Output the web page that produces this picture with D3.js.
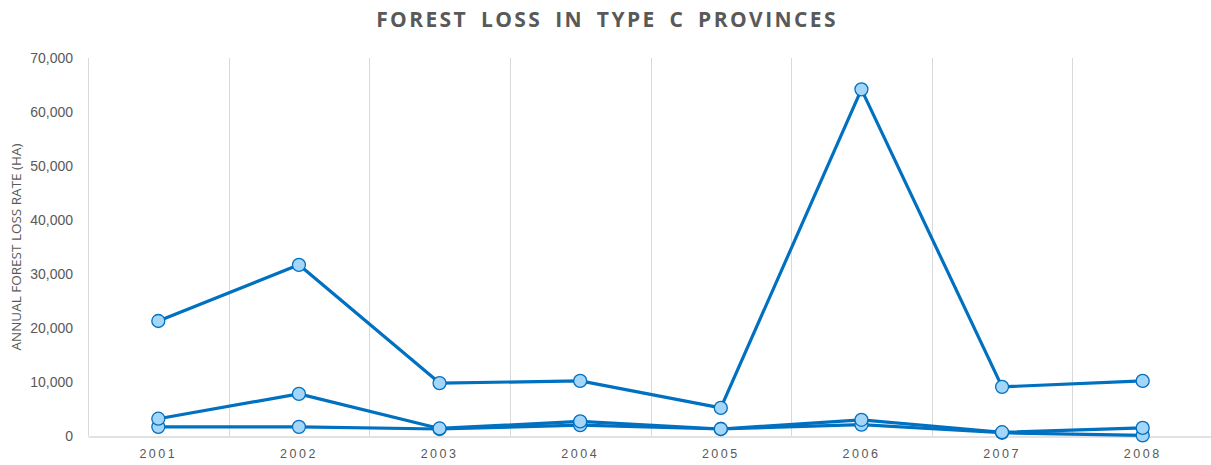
<!DOCTYPE html>
<html>
<head>
<meta charset="utf-8">
<script src="https://cdn.jsdelivr.net/npm/d3@7"></script>
<style>
  html, body { margin: 0; padding: 0; background: #fff; }
  svg { display: block; font-family: "Open Sans", "Liberation Sans", sans-serif; }
</style>
</head>
<body>
<svg id="chart" width="1211" height="465"></svg>
<script>
// Annual forest loss (ha) for three type C provinces, 2001–2008
const years = ["2001", "2002", "2003", "2004", "2005", "2006", "2007", "2008"];
const provinceA = [21300, 31700, 9800, 10200, 5200, 64200, 9100, 10200];
const provinceB = [3200, 7800, 1400, 2700, 1300, 3000, 700, 1500];
const provinceC = [1700, 1700, 1300, 2000, 1300, 2100, 600, 100];
const yTicks = [0, 10000, 20000, 30000, 40000, 50000, 60000, 70000];

const series = [provinceC, provinceB, provinceA];

const svg = d3.select("#chart");
const margin = { left: 88, right: -2, top: 58, bottom: 29 };
const W = 1211, H = 465;

const x = d3.scaleBand().domain(years).range([margin.left, W - margin.right]).paddingInner(0).paddingOuter(0);
const y = d3.scaleLinear().domain([0, 70000]).range([H - margin.bottom, margin.top]);

const grey = "#d9d9d9";
const text = "#595959";

// vertical gridlines between categories
svg.append("g")
  .selectAll("line")
  .data(years.slice(1))
  .join("line")
  .attr("x1", d => Math.round(x(d)) + 0.5)
  .attr("x2", d => Math.round(x(d)) + 0.5)
  .attr("y1", y(70000))
  .attr("y2", y(0))
  .attr("stroke", grey)
  .attr("stroke-width", 1);

// y axis line
svg.append("line")
  .attr("x1", margin.left + 0.5).attr("x2", margin.left + 0.5)
  .attr("y1", y(70000)).attr("y2", y(0))
  .attr("stroke", grey);

// x axis
const xAxis = svg.append("g")
  .attr("transform", `translate(0,${y(0) + 0.5})`)
  .call(d3.axisBottom(x).tickSize(0).tickPadding(13));
xAxis.select(".domain").attr("stroke", grey).attr("stroke-width", 1.5);
xAxis.selectAll("text")
  .attr("fill", text)
  .attr("font-size", 12.5)
  .attr("letter-spacing", "2.5px");

// y axis
const yAxis = svg.append("g")
  .attr("transform", `translate(${margin.left},0)`)
  .call(d3.axisLeft(y).tickValues(yTicks).tickSize(0).tickPadding(15).tickFormat(d3.format(",")));
yAxis.select(".domain").remove();
yAxis.selectAll("text")
  .attr("fill", text)
  .attr("font-size", 14);

// y axis title
svg.append("text")
  .attr("transform", `translate(21,${(y(0) + y(70000)) / 2}) rotate(-90)`)
  .attr("text-anchor", "middle")
  .attr("fill", text)
  .attr("font-size", 13.5)
  .text("ANNUAL FOREST LOSS RATE (HA)");

// title
svg.append("text")
  .attr("x", 607)
  .attr("y", 27)
  .attr("text-anchor", "middle")
  .attr("fill", text)
  .attr("font-size", 21)
  .attr("font-weight", "bold")
  .attr("letter-spacing", "2.4px")
  .attr("word-spacing", "5px")
  .text("FOREST LOSS IN TYPE C PROVINCES");

const line = d3.line()
  .x((d, i) => x(years[i]) + x.bandwidth() / 2)
  .y(d => y(d));

const lineColor = "#0070c0";
const markerFill = "#a3d6f8";

series.forEach(vals => {
  const g = svg.append("g");
  g.append("path")
    .datum(vals)
    .attr("d", line)
    .attr("fill", "none")
    .attr("stroke", lineColor)
    .attr("stroke-width", 3.2)
    .attr("stroke-linejoin", "round");
  g.selectAll("circle")
    .data(vals)
    .join("circle")
    .attr("cx", (d, i) => x(years[i]) + x.bandwidth() / 2)
    .attr("cy", d => y(d))
    .attr("r", 6.5)
    .attr("fill", markerFill)
    .attr("stroke", lineColor)
    .attr("stroke-width", 1.3);
});
</script>
</body>
</html>
